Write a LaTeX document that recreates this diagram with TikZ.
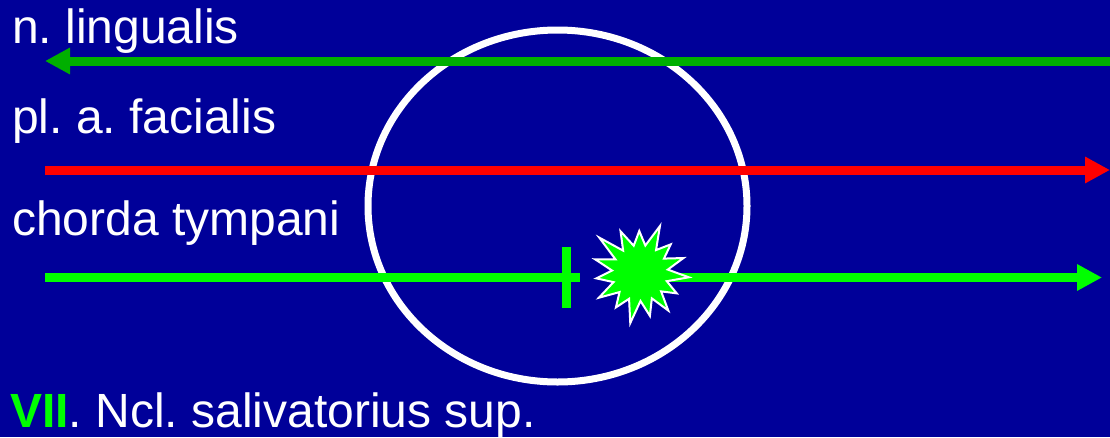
\documentclass[tikz,border=0pt]{standalone}
\usepackage{fontspec}
\setmainfont{Liberation Sans}
\usetikzlibrary{arrows.meta}
\definecolor{bgblue}{RGB}{0,0,153}
\definecolor{dgreen}{RGB}{0,175,0}
\definecolor{bgreen}{RGB}{0,255,0}
\definecolor{bred}{RGB}{255,0,0}
\frenchspacing
\tikzset{
  lbl/.style={anchor=base west, inner sep=0pt, text=white, font=\fontsize{48}{56}\selectfont},
  nerve/.style={line width=9pt},
  tipa/.style={-{Triangle[length=25pt,width=25pt]}},
  ring/.style={draw=white, line width=7pt},
  burst/.style={draw=white, line width=2pt, fill=bgreen, line join=miter},
}
\begin{document}
\begin{tikzpicture}[x=1pt,y=-1pt]
\fill[bgblue] (0,0) rectangle (1110,437);
\useasboundingbox (0,0) rectangle (1110,437);
% ellipse
\draw[ring] (557.5,206) ellipse [x radius=189.5, y radius=176];
% labels
\node[lbl] (t1) at (12,43) {n. lingualis};
\node[lbl] (t2) at (12,133) {pl. a. facialis};
\node[lbl] (t3) at (12,235) {chorda tympani};
\node[lbl] (t4) at (10,427) {\textcolor{bgreen}{\bfseries VII}. Ncl. salivatorius sup.};
% coordinates
\coordinate (a1) at (1110,61);
\coordinate (b1) at (45,61);
\coordinate (a2) at (45,170);
\coordinate (b2) at (1110,170);
\coordinate (a3) at (45,277.5);
\coordinate (b3) at (580,277.5);
\coordinate (s) at (640,273);
\coordinate (s3) at (640,277.5);
\coordinate (c3) at (1102,277.5);
\coordinate (p1) at (566,247);
\coordinate (p2) at (566,308);
% nerves
\draw[nerve, tipa, draw=dgreen, fill=dgreen] (a1) -- (b1);
\draw[nerve, draw=bred, fill=bred, tipa] (a2) -- (b2);
\draw[nerve, draw=bgreen] (a3) -- (b3);
\draw[nerve, draw=bgreen, fill=bgreen, tipa] (s3) -- (c3);
\draw[nerve, draw=bgreen] (p1) -- (p2);
% starburst
\begin{scope}[shift={(s)}]
\draw[burst] (67:51pt) -- (79:28pt) -- (91:42pt) -- (103:28pt) -- (115:46pt) -- (127:28pt)
 -- (139:54pt) -- (151:28pt) -- (163:47pt) -- (175:28pt) -- (187:44pt) -- (199:28pt)
 -- (211:48pt) -- (223:28pt) -- (235:42pt) -- (247:28pt) -- (259:51pt) -- (271:28pt)
 -- (283:44pt) -- (295:28pt) -- (307:47pt) -- (319:28pt) -- (331:42pt) -- (343:28pt)
 -- (355:49pt) -- (7:28pt) -- (19:46pt) -- (31:28pt) -- (43:42pt) -- (55:28pt) -- cycle;
\end{scope}
\end{tikzpicture}
\end{document}
